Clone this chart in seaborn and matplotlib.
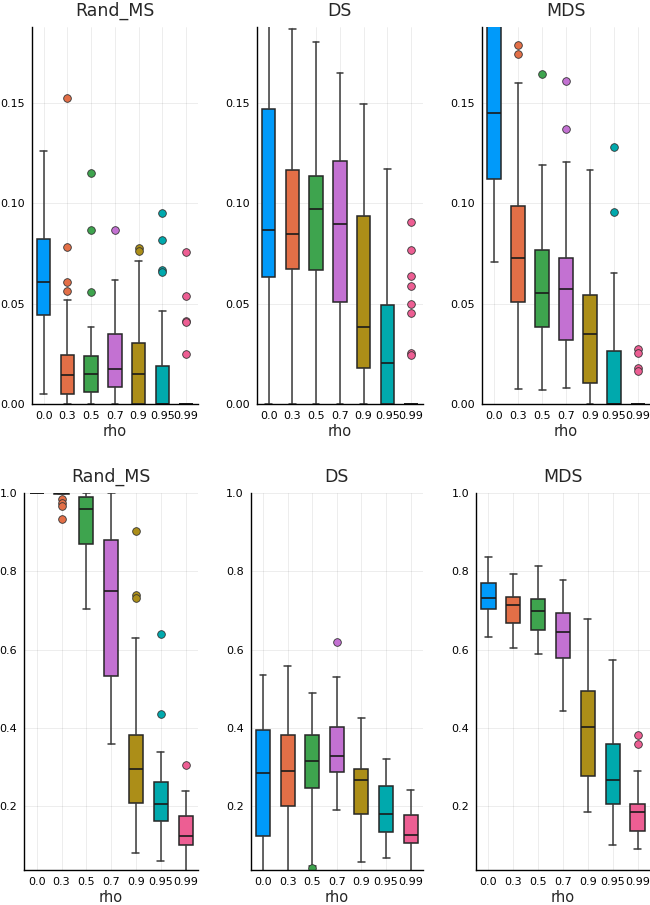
import matplotlib
matplotlib.use("Agg")
import matplotlib.pyplot as plt
import seaborn as sns

rho = ["0.0", "0.3", "0.5", "0.7", "0.9", "0.95", "0.99"]
julia_colors = ["#009AFA", "#E36F47", "#3EA44E", "#C371D2", "#AC8E18", "#00A9AD", "#ED5E93"]

# box stats per rho: [whisker low, q1, median, q3, whisker high]
top_rand_ms = [
    [0.0048, 0.0444, 0.061, 0.0824, 0.1264],
    [0.0, 0.0048, 0.0146, 0.0246, 0.0518],
    [0.0, 0.0058, 0.0150, 0.0239, 0.0385],
    [0.0, 0.0083, 0.0176, 0.0349, 0.0618],
    [0.0, 0.0, 0.0150, 0.0302, 0.0714],
    [0.0, 0.0, 0.0, 0.0191, 0.0465],
    [0.0, 0.0, 0.0, 0.0, 0.0],
]
top_rand_ms_out = [
    [],
    [0.1525, 0.0782, 0.061, 0.0565],
    [0.115, 0.0867, 0.0558],
    [0.0867],
    [0.0779, 0.0765],
    [0.0952, 0.0819, 0.0668, 0.0656],
    [0.0757, 0.054, 0.0415, 0.0407, 0.0249],
]

top_ds = [
    [0.0, 0.0631, 0.087, 0.1472, 0.215],
    [0.0, 0.0673, 0.0849, 0.1169, 0.1872],
    [0.0, 0.0668, 0.097, 0.1135, 0.1804],
    [0.0, 0.051, 0.0899, 0.1211, 0.1653],
    [0.0, 0.0179, 0.0385, 0.0937, 0.1497],
    [0.0, 0.0, 0.0204, 0.0495, 0.1174],
    [0.0, 0.0, 0.0, 0.0, 0.0],
]
top_ds_out = [
    [], [], [], [], [], [],
    [0.0909, 0.0767, 0.0638, 0.0588, 0.05, 0.0455, 0.0252, 0.0244],
]

top_mds = [
    [0.0709, 0.1121, 0.1449, 0.205, 0.28],
    [0.0075, 0.0508, 0.0726, 0.0985, 0.1603],
    [0.0068, 0.0385, 0.0555, 0.0769, 0.1194],
    [0.0078, 0.0317, 0.0571, 0.0728, 0.1208],
    [0.0, 0.0103, 0.0349, 0.0545, 0.1169],
    [0.0, 0.0, 0.0, 0.0266, 0.0651],
    [0.0, 0.0, 0.0, 0.0, 0.0],
]
top_mds_out = [
    [],
    [0.1789, 0.1743],
    [0.1648],
    [0.1613, 0.137],
    [],
    [0.1284, 0.0958],
    [0.0272, 0.0256, 0.0181, 0.0166],
]

bottom_rand_ms = [
    [1.0, 1.0, 1.0, 1.0, 1.0],
    [0.998, 0.999, 1.0, 1.0, 1.0],
    [0.704, 0.8695, 0.961, 0.9915, 1.0],
    [0.3595, 0.532, 0.751, 0.881, 1.0],
    [0.0806, 0.2068, 0.2947, 0.381, 0.629],
    [0.060, 0.1616, 0.205, 0.2623, 0.339],
    [0.02, 0.100, 0.1232, 0.1744, 0.2393],
]
bottom_rand_ms_out = [
    [],
    [0.985, 0.975, 0.968, 0.934],
    [],
    [],
    [0.9045, 0.739, 0.733],
    [0.639, 0.4345],
    [0.305],
]

bottom_ds = [
    [0.02, 0.1232, 0.2836, 0.3936, 0.5343],
    [0.02, 0.2009, 0.2896, 0.3825, 0.559],
    [0.045, 0.2461, 0.3143, 0.3817, 0.4883],
    [0.1898, 0.2862, 0.328, 0.4013, 0.529],
    [0.0558, 0.1795, 0.2674, 0.2947, 0.425],
    [0.066, 0.1343, 0.1795, 0.252, 0.3194],
    [0.02, 0.1045, 0.1249, 0.1778, 0.2401],
]
bottom_ds_out = [[], [], [0.041], [0.6196], [], [], []]

bottom_mds = [
    [0.6333, 0.7032, 0.7313, 0.7706, 0.838],
    [0.6043, 0.6674, 0.7143, 0.7339, 0.7936],
    [0.5889, 0.6495, 0.699, 0.7288, 0.8132],
    [0.4439, 0.5795, 0.6444, 0.6938, 0.7782],
    [0.1855, 0.2759, 0.403, 0.4934, 0.6793],
    [0.1002, 0.2051, 0.2674, 0.3595, 0.5736],
    [0.0908, 0.1352, 0.1838, 0.2043, 0.2896],
]
bottom_mds_out = [[], [], [], [], [], [], [0.3808, 0.3595]]

top_ylim = (0.0, 0.188)
top_yticks = [0.0, 0.05, 0.10, 0.15]
bottom_ylim = (0.036, 1.0)
bottom_yticks = [0.2, 0.4, 0.6, 0.8, 1.0]

sns.set_theme(style="white")
plt.rcParams["font.family"] = ["DejaVu Sans"]
palette = sns.color_palette(julia_colors)

fig = plt.figure(figsize=(6.5, 9.05), dpi=100)


def draw_panel(rect, stats, outliers, title, ylim, yticks, fmt):
    ax = fig.add_axes(rect)
    boxes = []
    for s, out, lab in zip(stats, outliers, rho):
        boxes.append(dict(whislo=s[0], q1=s[1], med=s[2], q3=s[3], whishi=s[4],
                          fliers=out, label=lab))
    art = ax.bxp(
        boxes, positions=range(len(rho)), widths=0.57, capwidths=0.28,
        patch_artist=True, showfliers=True,
        boxprops=dict(edgecolor="#262626", linewidth=1.1),
        medianprops=dict(color="#1a1a1a", linewidth=1.2),
        whiskerprops=dict(color="#3a3a3a", linewidth=1.1),
        capprops=dict(color="#3a3a3a", linewidth=1.1),
        flierprops=dict(marker="o", markersize=5.5, markeredgecolor="#333333",
                        markeredgewidth=0.6, linestyle="none"),
    )
    for patch, col in zip(art["boxes"], palette):
        patch.set_facecolor(col)
    for fl, col in zip(art["fliers"], palette):
        fl.set_markerfacecolor(col)

    ax.set_xlim(-0.5, 6.5)
    ax.set_ylim(*ylim)
    ax.set_yticks(yticks)
    ax.set_yticklabels([fmt.format(v) for v in yticks])
    ax.set_xticks(range(len(rho)))
    ax.set_xticklabels(rho)
    ax.grid(True, color="black", alpha=0.1, linewidth=0.5)
    ax.set_axisbelow(True)
    sns.despine(ax=ax)
    for side in ["left", "bottom"]:
        ax.spines[side].set_color("black")
        ax.spines[side].set_linewidth(1.0)
    ax.tick_params(direction="in", length=4, width=0.8, labelsize=8,
                   colors="black", pad=5)
    ax.set_xlabel("rho", fontsize=10.5, labelpad=2)
    ax.set_title(title, fontsize=12.5, pad=8)
    return ax


W, H = 650.0, 905.0


def rect(x0, x1, ytop, ybot):
    return [x0 / W, 1 - ybot / H, (x1 - x0) / W, (ybot - ytop) / H]


draw_panel(rect(31.7, 198, 27, 404), top_rand_ms, top_rand_ms_out, "Rand_MS",
           top_ylim, top_yticks, "{:.2f}")
draw_panel(rect(256.7, 423, 27, 404), top_ds, top_ds_out, "DS",
           top_ylim, top_yticks, "{:.2f}")
draw_panel(rect(482.3, 650, 27, 404), top_mds, top_mds_out, "MDS",
           top_ylim, top_yticks, "{:.2f}")
draw_panel(rect(24.3, 198, 493.3, 870), bottom_rand_ms, bottom_rand_ms_out, "Rand_MS",
           bottom_ylim, bottom_yticks, "{:.1f}")
draw_panel(rect(250.7, 423, 493.3, 870), bottom_ds, bottom_ds_out, "DS",
           bottom_ylim, bottom_yticks, "{:.1f}")
draw_panel(rect(476, 650, 493.3, 870), bottom_mds, bottom_mds_out, "MDS",
           bottom_ylim, bottom_yticks, "{:.1f}")

fig.savefig("out.png", dpi=100)
